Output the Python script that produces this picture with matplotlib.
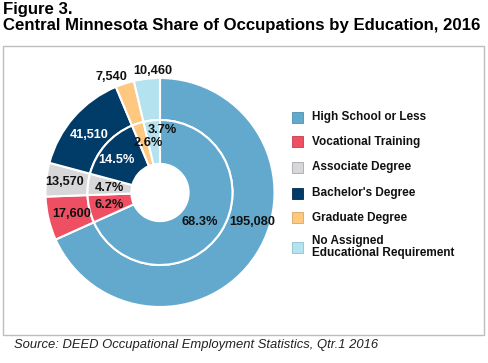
import matplotlib.pyplot as plt
from matplotlib.patches import Rectangle

plt.rcParams['font.family'] = ['Liberation Sans', 'DejaVu Sans']

# Data
categories = ['High School or Less', 'Vocational Training', 'Associate Degree',
              "Bachelor's Degree", 'Graduate Degree',
              'No Assigned\nEducational Requirement']
jobs = [195080, 17600, 13570, 41510, 7540, 10460]
shares = ['68.3%', '6.2%', '4.7%', '14.5%', '2.6%', '3.7%']
colors = ['#63A9CD', '#EE4F63', '#D7D7D9', '#013B68', '#FFC880', '#B4E2EE']
edge_colors = ['#4C8FB2', '#C63A4C', '#A8A8AA', '#012A4A', '#D9A560', '#8EC2D0']

# label positions in units of the outer radius
outer_pos = [(0.81, -0.26), (-0.77, -0.19), (-0.83, 0.09), (-0.62, 0.50), (-0.42, 1.01), (-0.06, 1.06)]
inner_pos = [(0.35, -0.26), (-0.44, -0.11), (-0.44, 0.04), (-0.38, 0.28), (-0.10, 0.43), (0.02, 0.55)]
text_colors = ['#111111', '#111111', '#111111', 'white', '#111111', '#111111']

W, H = 488, 363
fig = plt.figure(figsize=(W / 100, H / 100), dpi=100)

# frame around the chart
fig.patches.append(Rectangle((3 / W, 1 - 335 / H), 481 / W, 289 / H, transform=fig.transFigure,
                             fill=False, edgecolor='#BDBDBD', linewidth=1.0))

fig.text(3 / W, 1 - 2 / H, 'Figure 3.\nCentral Minnesota Share of Occupations by Education, 2016',
         ha='left', va='top', fontsize=12.1, fontweight='bold', linespacing=1.12, color='black')
fig.text(14 / W, 1 - 345 / H, 'Source: DEED Occupational Employment Statistics, Qtr.1 2016',
         ha='left', va='center', fontsize=9.4, style='italic', color='#222222')

cx, cy, R = 160, 192.5, 114.5
ax = fig.add_axes([(cx - R) / W, 1 - (cy + R) / H, 2 * R / W, 2 * R / H])
ax.set_aspect('equal')
ax.axis('off')

wedge_kw = dict(edgecolor='white', linewidth=1.5)
ax.pie(jobs, radius=1.0, colors=colors, startangle=90, counterclock=False,
       wedgeprops=dict(width=0.367, **wedge_kw))
ax.pie(jobs, radius=0.633, colors=colors, startangle=90, counterclock=False,
       wedgeprops=dict(width=0.383, **wedge_kw))
ax.set_xlim(-1, 1)
ax.set_ylim(-1, 1)

for v, (x, y), c in zip(jobs, outer_pos, text_colors):
    ax.text(x, y, f'{v:,}', ha='center', va='center', fontsize=9.2, fontweight='bold', color=c)
for s, (x, y), c in zip(shares, inner_pos, text_colors):
    ax.text(x, y, s, ha='center', va='center', fontsize=9.2, fontweight='bold', color=c)

# legend
row_y = [117, 142, 167, 193, 218, 247]
for name, col, ec, y in zip(categories, colors, edge_colors, row_y):
    fig.patches.append(Rectangle((292 / W, 1 - (y + 5.5) / H), 11 / W, 11 / H, transform=fig.transFigure,
                                 facecolor=col, edgecolor=ec, linewidth=0.6))
    fig.text(312 / W, 1 - y / H, name, ha='left', va='center', fontsize=8.5, fontweight='bold',
             color='#111111', linespacing=1.0)

fig.savefig('out.png', dpi=100)
